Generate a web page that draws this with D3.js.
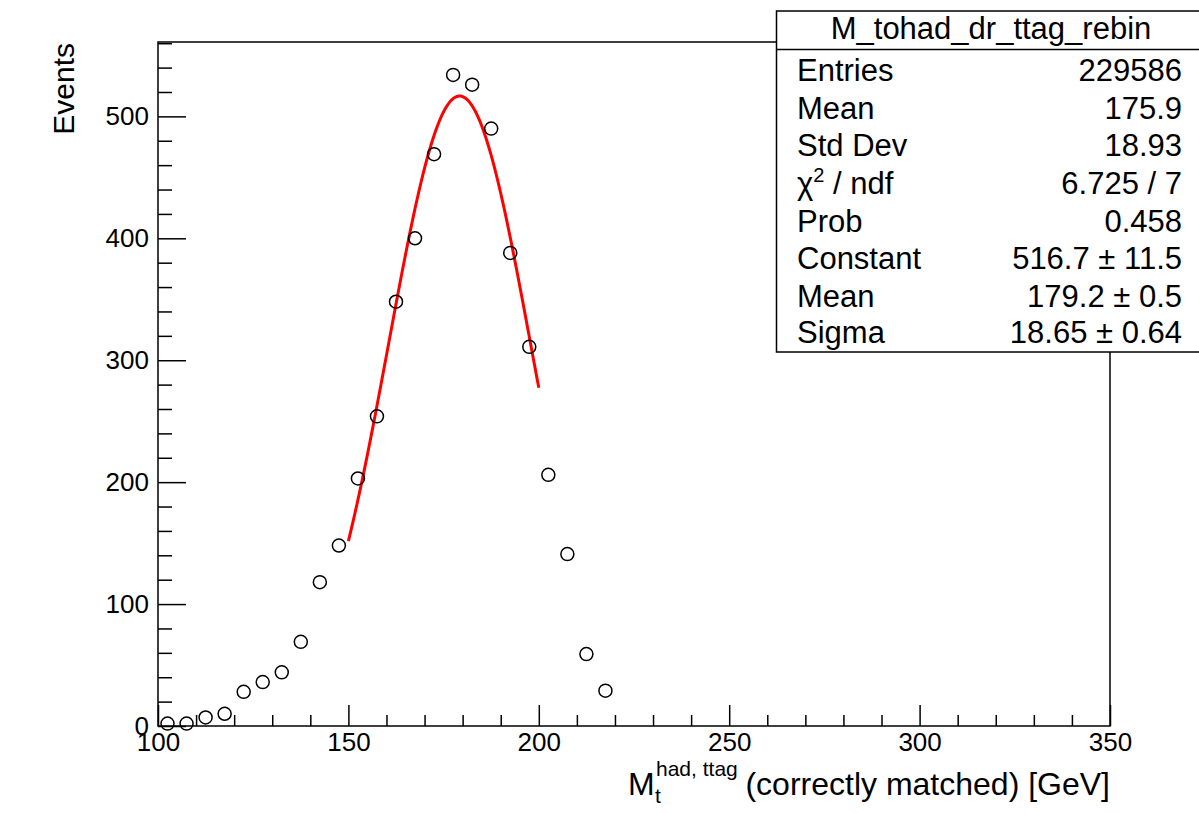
<!DOCTYPE html>
<html>
<head>
<meta charset="utf-8">
<script src="https://cdn.jsdelivr.net/npm/d3@7"></script>
<style>
  body { margin: 0; background: #fff; }
  text { font-family: "Liberation Sans", Arial, sans-serif; fill: #000; }
</style>
</head>
<body>
<svg width="1199" height="813"></svg>
<script>
const svg = d3.select("svg");

// histogram bins (5 GeV wide), centres and contents
const binCenters = [102.5, 107.5, 112.5, 117.5, 122.5, 127.5, 132.5, 137.5, 142.5, 147.5,
                    152.5, 157.5, 162.5, 167.5, 172.5, 177.5, 182.5, 187.5, 192.5, 197.5,
                    202.5, 207.5, 212.5, 217.5];
const binCounts = [2, 2, 7, 10, 28, 36, 44, 69, 118, 148,
                   203, 254, 348, 400, 469, 534, 526, 490, 388, 311,
                   206, 141, 59, 29];

// gaussian fit parameters and range
const fitParams = [516.7, 179.2, 18.65]; // constant, mean, sigma
const fitRange = [150, 200];

// axis ticks
const xMajor = [100, 150, 200, 250, 300, 350];
const yMajor = [0, 100, 200, 300, 400, 500];

// stats box
const statsTitle = "M_tohad_dr_ttag_rebin";
const statsLabels = ["Entries", "Mean", "Std Dev", "χ2 / ndf", "Prob", "Constant", "Mean", "Sigma"];
const statsValues = ["229586", "175.9", "18.93", "6.725 / 7", "0.458", "516.7 ± 11.5", "179.2 ± 0.5", "18.65 ± 0.64"];

const padL = 158, padR = 1110, padT = 42, padB = 726;
const font = '"Liberation Sans", Arial, sans-serif';

const x = d3.scaleLinear().domain([100, 350]).range([padL, padR]);
const y = d3.scaleLinear().domain([0, 561]).range([padB, padT]);

// frame
svg.append("rect")
  .attr("x", padL).attr("y", padT)
  .attr("width", padR - padL).attr("height", padB - padT)
  .attr("fill", "none").attr("stroke", "#000").attr("stroke-width", 1.5);

// x axis: minor then major
const xMinor = d3.range(100, 351, 10).filter(v => v % 50 !== 0);
svg.append("g")
  .attr("transform", `translate(0,${padB})`)
  .call(d3.axisBottom(x).tickValues(xMinor).tickSize(-11).tickFormat(""))
  .call(g => g.select(".domain").remove())
  .call(g => g.selectAll("line").attr("stroke-width", 1.5));

const xAxis = svg.append("g")
  .attr("transform", `translate(0,${padB})`)
  .call(d3.axisBottom(x).tickValues(xMajor).tickSize(-21).tickPadding(7).tickFormat(d3.format("d")))
  .call(g => g.select(".domain").remove())
  .call(g => g.selectAll("line").attr("stroke-width", 1.5));
xAxis.selectAll("text").attr("font-size", 26).style("font-family", font);

// y axis
const yMinor = d3.range(0, 561, 20).filter(v => v % 100 !== 0);
svg.append("g")
  .attr("transform", `translate(${padL},0)`)
  .call(d3.axisLeft(y).tickValues(yMinor).tickSize(-14).tickFormat(""))
  .call(g => g.select(".domain").remove())
  .call(g => g.selectAll("line").attr("stroke-width", 1.5));

const yAxis = svg.append("g")
  .attr("transform", `translate(${padL},0)`)
  .call(d3.axisLeft(y).tickValues(yMajor).tickSize(-28).tickPadding(9).tickFormat(d3.format("d")))
  .call(g => g.select(".domain").remove())
  .call(g => g.selectAll("line").attr("stroke-width", 1.5));
yAxis.selectAll("text").attr("font-size", 26).style("font-family", font);

// axis titles
svg.append("text")
  .attr("transform", "translate(74,43) rotate(-90)")
  .attr("text-anchor", "end")
  .attr("font-size", 30)
  .text("Events");

svg.append("text").attr("x", 628).attr("y", 795).attr("font-size", 32).text("M");
svg.append("text").attr("x", 656).attr("y", 776).attr("font-size", 21).text("had, ttag");
svg.append("text").attr("x", 655).attr("y", 803).attr("font-size", 21).text("t");
svg.append("text").attr("x", padR).attr("y", 795).attr("text-anchor", "end")
  .attr("font-size", 32).text("(correctly matched) [GeV]");

// fit curve
const gaus = v => fitParams[0] * Math.exp(-0.5 * Math.pow((v - fitParams[1]) / fitParams[2], 2));
const fitX = d3.range(fitRange[0], fitRange[1] + 0.01, 0.5);
svg.append("path")
  .datum(fitX)
  .attr("fill", "none")
  .attr("stroke", "#ff0000")
  .attr("stroke-width", 3)
  .attr("d", d3.line().x(d => x(d)).y(d => y(gaus(d))));

// data markers
svg.append("g").selectAll("circle")
  .data(binCenters.map((c, i) => [c, binCounts[i]]))
  .join("circle")
  .attr("cx", d => x(d[0]))
  .attr("cy", d => y(d[1]))
  .attr("r", 6.5)
  .attr("fill", "none")
  .attr("stroke", "#000")
  .attr("stroke-width", 1.5);

// stats box
const box = svg.append("g");
box.append("rect")
  .attr("x", 776.5).attr("y", 11)
  .attr("width", 440).attr("height", 341)
  .attr("fill", "#fff").attr("stroke", "#000").attr("stroke-width", 1.5);
box.append("line")
  .attr("x1", 776.5).attr("x2", 1199).attr("y1", 49.5).attr("y2", 49.5)
  .attr("stroke", "#000").attr("stroke-width", 1.5);
box.append("text")
  .attr("x", 991).attr("y", 39).attr("text-anchor", "middle")
  .attr("font-size", 31).text(statsTitle);

const rowBase = [81, 118.5, 156, 194, 231.5, 269, 307, 343];
statsLabels.forEach((lab, i) => {
  const t = box.append("text").attr("x", 797).attr("y", rowBase[i]).attr("font-size", 31);
  if (lab.startsWith("χ2")) {
    t.append("tspan").text("χ");
    t.append("tspan").attr("font-size", 20).attr("dy", -12).text("2");
    t.append("tspan").attr("dy", 12).text(" / ndf");
  } else {
    t.text(lab);
  }
  box.append("text")
    .attr("x", 1182).attr("y", rowBase[i])
    .attr("text-anchor", "end").attr("font-size", 31)
    .text(statsValues[i]);
});
</script>
</body>
</html>
